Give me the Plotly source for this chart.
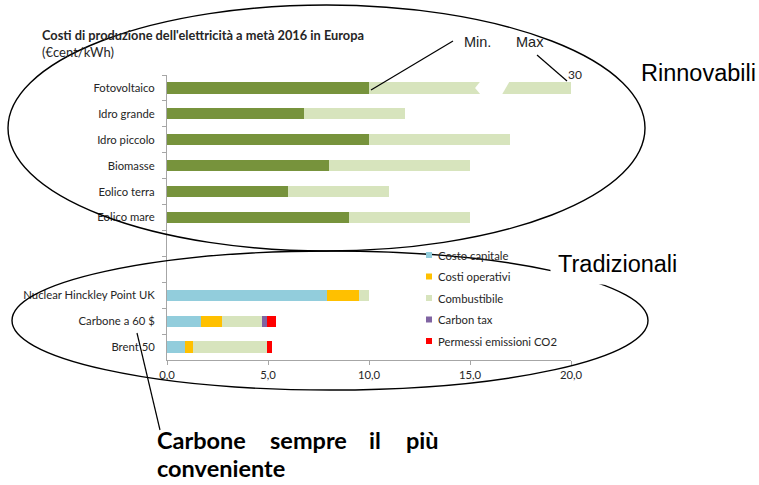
import plotly.graph_objects as go

# ---------------- data ----------------
categories = ["Fotovoltaico", "Idro grande", "Idro piccolo", "Biomasse", "Eolico terra",
              "Eolico mare", " ", "  ", "Nuclear Hinckley Point UK", "Carbone a 60 $", "Brent 50"]

ren_labels = ["Fotovoltaico", "Idro grande", "Idro piccolo", "Biomasse", "Eolico terra", "Eolico mare"]
ren_min = [10.0, 6.8, 10.0, 8.0, 6.0, 9.0]
ren_max = [30.0, 11.8, 17.0, 15.0, 11.0, 15.0]

trad_labels = ["Nuclear Hinckley Point UK", "Carbone a 60 $", "Brent 50"]
costo_capitale = [7.9, 1.7, 0.87]
costi_operativi = [1.6, 1.0, 0.4]
combustibile = [0.5, 2.0, 3.7]
carbon_tax = [0.0, 0.27, 0.0]
permessi_co2 = [0.0, 0.45, 0.23]

series_names = ["Costo capitale", "Costi operativi", "Combustibile", "Carbon tax", "Permessi emissioni CO2"]
series_colors = ["#92cddc", "#ffc000", "#d7e4bd", "#8064a2", "#ff0000"]
series_values = [costo_capitale, costi_operativi, combustibile, carbon_tax, permessi_co2]

x_tickvals = [0, 5, 10, 15, 20]
x_ticktext = ["0,0", "5,0", "10,0", "15,0", "20,0"]

# ---------------- layout geometry ----------------
W, H = 759, 485
L, R, T, B = 167, 571, 75, 360   # plot area in pixels
BARGAP = 0.57
FONT = "Lato"
TXT = "#262626"
SMALL = 11.3


def px(x):
    return (x - L) / (R - L)


def py(y):
    return (B - y) / (B - T)


fig = go.Figure()

fig.add_trace(go.Bar(y=ren_labels, x=ren_min, orientation="h", name="Min.",
                     marker=dict(color="#77933c", line=dict(width=0)), showlegend=False))
fig.add_trace(go.Bar(y=ren_labels, x=[mx - mn for mn, mx in zip(ren_min, ren_max)],
                     orientation="h", name="Max",
                     marker=dict(color="#d7e4bd", line=dict(width=0)), showlegend=False))

for name, color, vals in zip(series_names, series_colors, series_values):
    fig.add_trace(go.Bar(y=trad_labels, x=vals, orientation="h", name=name,
                         marker=dict(color=color, line=dict(width=0)), showlegend=False))

shapes = []
annotations = []

# axis break on the Fotovoltaico bar
n = len(categories)
idx = categories.index("Fotovoltaico")
yc = (n - 0.5 - idx) / n
hh = (1 - BARGAP) / 2 / n + 0.002
shapes.append(dict(type="path", xref="x", yref="paper",
                   path=f"M15.5,{yc+hh} L16.95,{yc+hh} L16.6,{yc-hh} L15.5,{yc-hh} L15.25,{yc} Z",
                   fillcolor="white", line=dict(width=0), layer="above"))

# ellipses
shapes.append(dict(type="circle", xref="paper", yref="paper",
                   x0=px(8), x1=px(645), y0=py(251), y1=py(5),
                   line=dict(color="black", width=1.4)))
shapes.append(dict(type="circle", xref="paper", yref="paper",
                   x0=px(12), x1=px(648), y0=py(390), y1=py(251),
                   line=dict(color="black", width=1.4)))

# leader lines
for (x0, y0, x1, y1) in [(453, 41, 371, 90), (537, 55, 567, 81), (137, 333, 160, 430)]:
    shapes.append(dict(type="line", xref="paper", yref="paper",
                       x0=px(x0), y0=py(y0), x1=px(x1), y1=py(y1),
                       line=dict(color="black", width=1.2)))

# manual legend
leg_rows = [255, 276.5, 298, 319.5, 341]
for name, color, yy in zip(series_names, series_colors, leg_rows):
    shapes.append(dict(type="rect", xref="paper", yref="paper",
                       x0=px(426), x1=px(432), y0=py(yy + 3), y1=py(yy - 3),
                       fillcolor=color, line=dict(width=0)))
    annotations.append(dict(text=name, xref="paper", yref="paper", x=px(436), y=py(yy),
                            xanchor="left", yanchor="middle", showarrow=False,
                            font=dict(family=FONT, size=SMALL, color=TXT)))


def ann(text, x, y, size, family=FONT, color=TXT, xanchor="left", bold=False, **kw):
    t = f"<b>{text}</b>" if bold else text
    annotations.append(dict(text=t, xref="paper", yref="paper", x=px(x), y=py(y),
                            xanchor=xanchor, yanchor="middle", showarrow=False,
                            font=dict(family=family, size=size, color=color), **kw))


ann("Costi di produzione dell'elettricità a metà 2016 in Europa", 40, 35, 12.8, bold=True)
ann("(€cent/kWh)", 40, 52, 13)
ann("Min.", 462, 42, 14.5, family="Liberation Sans", color="#222")
ann("Max", 514, 42, 14.5, family="Liberation Sans", color="#222")
ann("30", 566, 74, 12)
ann("Rinnovabili", 639, 73, 23.5, family="Liberation Sans", color="black")
ann("Tradizionali", 550, 263.5, 23.5, family="Liberation Sans", color="black",
    bgcolor="white", borderpad=7)

# bottom justified text
for word, xx in [("Carbone", 156), ("sempre", 269), ("il", 368), ("più", 405)]:
    ann(word, xx, 439.5, 23.5, bold=True, color="black", borderpad=0)
ann("conveniente", 156, 467.5, 23.5, bold=True, color="black", borderpad=0)

fig.update_layout(
    width=W, height=H,
    margin=dict(l=L, r=W - R, t=T, b=H - B, pad=0),
    paper_bgcolor="white", plot_bgcolor="white",
    barmode="stack", bargap=BARGAP,
    showlegend=False,
    shapes=shapes, annotations=annotations,
    font=dict(family=FONT, size=SMALL, color=TXT),
    xaxis=dict(range=[0, 20], tickvals=x_tickvals, ticktext=x_ticktext,
               showgrid=False, zeroline=False, showline=True, linecolor="#a6a6a6",
               linewidth=1, ticks="outside", ticklen=4, tickcolor="#a6a6a6",
               tickfont=dict(family=FONT, size=SMALL, color=TXT)),
    yaxis=dict(type="category", categoryorder="array", categoryarray=categories,
               range=[n - 0.5, -0.5], showgrid=False, zeroline=False,
               showline=True, linecolor="#a6a6a6", linewidth=1,
               ticks="outside", ticklen=4, tickcolor="#a6a6a6", tickson="boundaries",
               ticklabelstandoff=9,
               tickfont=dict(family=FONT, size=SMALL, color=TXT)),
)

fig.write_html("out.html", config={"displayModeBar": False},
               post_script="document.body.style.margin='0px';document.body.style.padding='0px';")
